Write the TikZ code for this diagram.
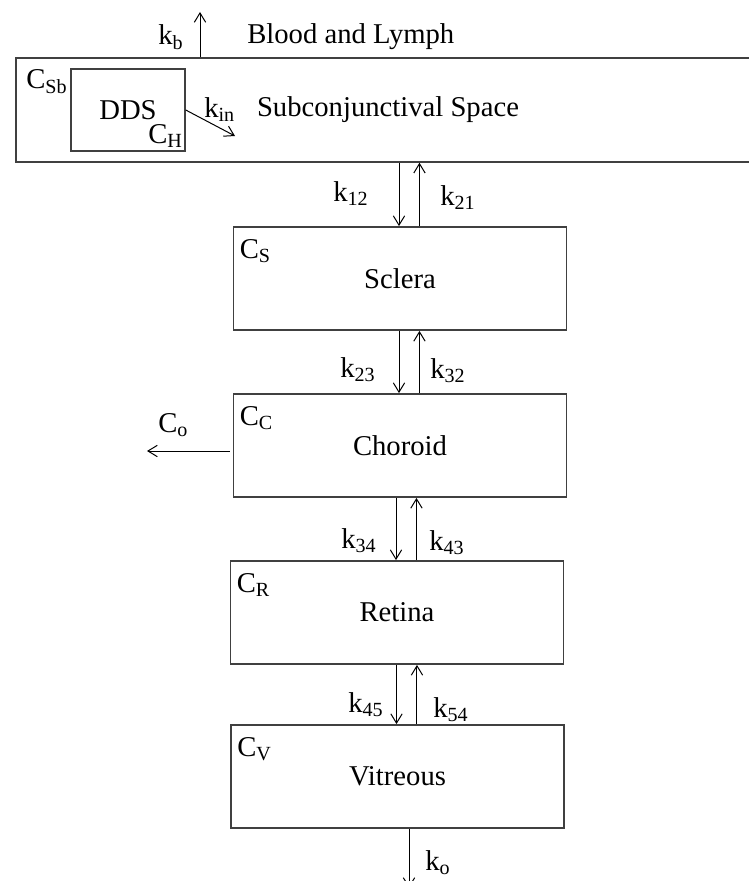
\documentclass[tikz,border=0pt]{standalone}
\usepackage{fontspec}
\setmainfont{Liberation Serif}
\usepackage{tikz}
\usetikzlibrary{arrows.meta}
\tikzset{
  compbox/.style={
    draw=black!75,
    line width=1.1pt,
    minimum width=250pt,
    minimum height=77.5pt,
    inner sep=0pt
  },
  outerbox/.style={
    compbox,
    minimum width=558pt,
    minimum height=78pt
  },
  ddsbox/.style={
    compbox,
    minimum width=85.5pt,
    minimum height=61.5pt
  },
  ratelabel/.style={
    anchor=base west,
    inner sep=0pt
  },
  flowline/.style={
    draw=black,
    line width=0.75pt,
    -{Straight Barb[length=7pt,width=8.5pt]}
  }
}

\begin{document}
\begin{tikzpicture}[x=0.75pt,y=-0.75pt,font=\fontsize{21.5}{26}\selectfont]
  \useasboundingbox (0,0) rectangle (749,881);
  \clip (0,0) rectangle (749,881);
  % compartments
  \node[outerbox] (subc) at (388,110) {Subconjunctival Space};
  \node[ddsbox] (dds) at (128,110) {DDS};
  \node[compbox] (sclera) at (400,278.5) {Sclera};
  \node[compbox] (choroid) at (400,445.5) {Choroid};
  \node[compbox] (retina) at (397,612.5) {Retina};
  \node[compbox] (vitreous) at (397.5,776.5) {Vitreous};
  \node[ratelabel] (blood) at (247,44) {Blood and Lymph};
  % concentrations
  \foreach \comp/\sub in {sclera/S,choroid/C,retina/R,vitreous/V}{
    \node[ratelabel] (c\comp) at ([shift={(7,32)}]\comp.north west) {C\textsubscript{\sub}};
  }
  \node[ratelabel] (csb) at (26,89) {C\textsubscript{Sb}};
  \node[ratelabel] (ch) at (148,143) {C\textsubscript{H}};
  \node[ratelabel] (co) at (158,432) {C\textsubscript{o}};
  % rate constants
  \foreach \sub/\x/\y in {b/158/45,in/204/117,12/333/201,21/440/205,23/340/377,32/430/378,34/341/548,43/429/550,45/348/712,54/433/717,o/425/870}{
    \node[ratelabel] (k\sub) at (\x,\y) {k\textsubscript{\sub}};
  }
  % exchange between layers
  \foreach \upper/\lower in {subc/sclera,sclera/choroid,choroid/retina,retina/vitreous}{
    \draw[flowline] ([xshift=-0.75pt]\upper.south -| \lower.north) -- ([xshift=-0.75pt]\lower.north);
    \draw[flowline] ([xshift=14.6pt]\lower.north) -- ([xshift=14.6pt]\upper.south -| \lower.north);
  }
  % losses
  \coordinate (bloodtip) at (200,12);
  \coordinate (kintip) at (235,136);
  \coordinate (cotip) at (147,451);
  \coordinate (kotip) at (409,888);
  \draw[flowline] (subc.north -| bloodtip) -- (bloodtip);
  \draw[flowline] (dds.east) -- (kintip);
  \draw[flowline, shorten <=2.25pt] (choroid.west |- cotip) -- (cotip);
  \draw[flowline] (vitreous.south -| kotip) -- (kotip);
\end{tikzpicture}
\end{document}
